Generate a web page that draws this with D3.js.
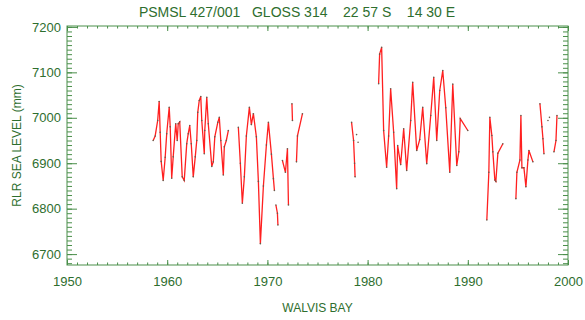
<!DOCTYPE html>
<html>
<head>
<meta charset="utf-8">
<script src="https://cdn.jsdelivr.net/npm/d3@7/dist/d3.min.js"></script>
<style>
  body { margin: 0; background: #fff; }
  text { font-family: "Liberation Sans", Arial, sans-serif; fill: #2e6e2e; }
</style>
</head>
<body>
<div id="chart"></div>
<script>
// monthly RLR mean sea level, Walvis Bay (null = gap in record)
const years = [
  1958.6, 1958.8, 1959.05, 1959.2, 1959.3, 1959.4, 1959.6, 1959.8, 1959.95, 1960.2, 1960.3, 1960.45, 1960.6,
  1960.85, 1961.0, 1961.1, 1961.25, 1961.5, 1961.7, 1961.95, 1962.1, 1962.25, 1962.4, 1962.6, 1962.8, 1962.95,
  1963.05, 1963.2, 1963.35, 1963.45, 1963.7, 1963.75, 1963.95, 1964.1, 1964.45, 1964.6, 1964.75, 1965.05, 1965.2,
  1965.35, 1965.6, 1965.7, 1965.9, 1966.1, 1966.5,
  1967.1, 1967.3, 1967.5, 1967.7, 1967.9, 1968.2, 1968.4, 1968.6, 1968.9, 1969.1, 1969.3, 1969.6, 1969.9, 1970.1,
  1970.4, 1970.6, 1970.7, 1970.75,
  1970.85, 1971.0, 1971.05,
  1971.3, 1971.5, 1971.8, 1972.0, 1972.1,
  1972.3, 1972.45, 1972.5,
  1972.8, 1972.9, 1973.0, 1973.5,
  1978.2, 1978.4, 1978.6, 1978.7, 1978.75,
  1978.85, 1978.9,
  1979.0, 1979.05,
  1981.0, 1981.1, 1981.2, 1981.4, 1981.6, 1981.9, 1982.1, 1982.3, 1982.6, 1982.9, 1983.0, 1983.3, 1983.6, 1983.9,
  1984.3, 1984.5, 1984.9, 1985.2, 1985.5, 1985.9, 1986.3, 1986.6, 1986.9, 1987.2, 1987.5, 1987.8, 1988.2, 1988.5,
  1988.9, 1989.1, 1989.25, 1990.0,
  1991.7, 1991.9, 1992.1, 1992.2, 1992.4, 1992.5, 1992.7, 1992.8, 1993.0, 1993.5,
  1994.7, 1994.8, 1994.9, 1995.2, 1995.3, 1995.4, 1995.6, 1995.8, 1996.0, 1996.1, 1996.5,
  1997.1, 1997.2, 1997.4, 1997.5, 1997.6,
  1997.95, 1998.0,
  1998.1, 1998.15,
  1998.5, 1998.6, 1998.8, 1998.9
];
const level = [
  6950, 6960, 6994, 7036, 6968, 6904, 6862, 6913, 6965, 7023, 6980, 6867, 6914,
  6987, 6950, 6987, 6991, 6870, 6862, 6943, 6965, 6983, 6943, 6870, 6914, 6950,
  7012, 7038, 7047, 6994, 6921, 6972, 7045, 6987, 6893, 6903, 6958, 6990, 7001,
  6950, 6874, 6936, 6950, 6972, null,
  6979, 6900, 6812, 6870, 6960, 7023, 6985, 7009, 6958, 6860, 6723, 6850, 6940, 6990,
  6920, 6866, 6840, null,
  6808, 6790, 6764, null,
  6906, 6880, 6932, 6808, null,
  7031, 6994, null,
  6903, 6960, 7009, null,
  6990, 6950, 6900, 6870, null,
  6963, null,
  6946, null,
  7075, 7140, 7155, 6972, 6891, 6960, 7064, 6968, 6844, 6939, 6897, 6976, 6884, 6994,
  7078, 6928, 6952, 7023, 6899, 7005, 7089, 6950, 7060, 7104, 7022, 6880, 7074, 6895,
  6925, 6998, 6972, null,
  6775, 6880, 7001, 6961, 6925, 6863, 6860, 6922, 6943, null,
  6822, 6880, 6907, 7005, 6890, 6890, 6848, 6907, 6928, 6903, null,
  7031, 6980, 6954, 6921, null,
  6994, null,
  7001, null,
  6925, 6950, 7005, 6928
];
const xTicks = [1950, 1960, 1970, 1980, 1990, 2000];
const yTicks = [6700, 6800, 6900, 7000, 7100, 7200];
const title = 'PSMSL 427/001   GLOSS 314    22 57 S    14 30 E';
const station = 'WALVIS BAY';
const yLabel = 'RLR SEA LEVEL (mm)';

const width = 585, height = 320;
const margin = { top: 26, right: 17, bottom: 55, left: 67 };
const w = width - margin.left - margin.right;
const h = height - margin.top - margin.bottom;
const axisColor = '#4a8f4a';

const svg = d3.select('#chart')
  .append('svg')
  .attr('width', width)
  .attr('height', height);

const g = svg.append('g')
  .attr('transform', `translate(${margin.left},${margin.top})`);

const x = d3.scaleLinear().domain([1950, 2000]).range([0, w]);
const y = d3.scaleLinear().domain([6676, 7202]).range([h, 0]);

const data = years.map((yr, i) => ({ yr, v: level[i] }));

// frame
g.append('rect')
  .attr('width', w)
  .attr('height', h)
  .attr('fill', 'none')
  .attr('stroke', axisColor)
  .attr('stroke-width', 1);

const minorX = d3.range(1950, 2001, 1);
const minorY = d3.range(6680, 7201, 10);

function styleAxis(sel) {
  sel.select('.domain').remove();
  sel.selectAll('line').attr('stroke', axisColor);
}

// minor ticks, all four sides, pointing inwards
g.append('g').attr('transform', `translate(0,${h})`)
  .call(d3.axisBottom(x).tickValues(minorX).tickSize(-2.5).tickFormat(''))
  .call(styleAxis);
g.append('g')
  .call(d3.axisTop(x).tickValues(minorX).tickSize(-2.5).tickFormat(''))
  .call(styleAxis);
g.append('g')
  .call(d3.axisLeft(y).tickValues(minorY).tickSize(-5).tickFormat(''))
  .call(styleAxis);
g.append('g').attr('transform', `translate(${w},0)`)
  .call(d3.axisRight(y).tickValues(minorY).tickSize(-5).tickFormat(''))
  .call(styleAxis);

// major ticks + labels
g.append('g').attr('transform', `translate(0,${h})`)
  .call(d3.axisBottom(x).tickValues(xTicks).tickSize(-5).tickPadding(12).tickFormat(d3.format('d')))
  .call(styleAxis)
  .call(a => a.selectAll('text').style('font-size', '13px').attr('fill', '#2e6e2e'));
g.append('g')
  .call(d3.axisTop(x).tickValues(xTicks).tickSize(-5).tickFormat(''))
  .call(styleAxis);
g.append('g')
  .call(d3.axisLeft(y).tickValues(yTicks).tickSize(-10).tickPadding(6).tickFormat(d3.format('d')))
  .call(styleAxis)
  .call(a => a.selectAll('text').style('font-size', '13px').attr('fill', '#2e6e2e'));
g.append('g').attr('transform', `translate(${w},0)`)
  .call(d3.axisRight(y).tickValues(yTicks).tickSize(-10).tickFormat(''))
  .call(styleAxis);

// sea level line
const line = d3.line()
  .defined(d => d.v != null)
  .x(d => x(d.yr))
  .y(d => y(d.v));

g.append('path')
  .datum(data)
  .attr('fill', 'none')
  .attr('stroke', '#ff2020')
  .attr('stroke-width', 1.3)
  .attr('d', line);

// data point marks
g.selectAll('.dot')
  .data(data.filter(d => d.v != null))
  .enter().append('circle')
  .attr('class', 'dot')
  .attr('cx', d => x(d.yr))
  .attr('cy', d => y(d.v))
  .attr('r', 0.8)
  .attr('fill', '#6a5a4a');

// labels
svg.append('text')
  .attr('x', 297)
  .attr('y', 17)
  .attr('text-anchor', 'middle')
  .style('font-size', '14px')
  .style('white-space', 'pre')
  .text(title);

svg.append('text')
  .attr('x', margin.left + w / 2)
  .attr('y', 312)
  .attr('text-anchor', 'middle')
  .style('font-size', '12px')
  .text(station);

svg.append('text')
  .attr('transform', `translate(21,${margin.top + h / 2}) rotate(-90)`)
  .attr('text-anchor', 'middle')
  .style('font-size', '12px')
  .text(yLabel);
</script>
</body>
</html>
